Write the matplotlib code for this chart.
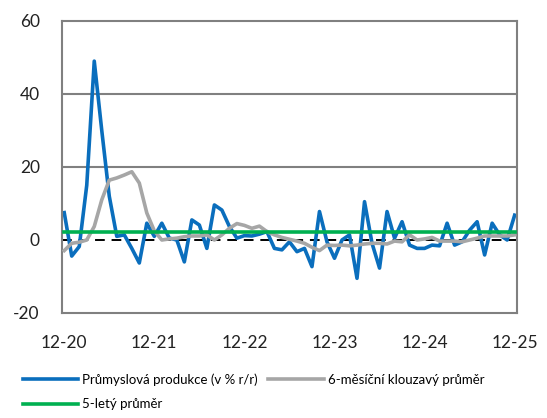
import matplotlib as mpl
mpl.use('Agg')
import matplotlib.pyplot as plt
import numpy as np

plt.rcParams['font.family'] = ['Lato', 'DejaVu Sans']
plt.rcParams['axes.unicode_minus'] = False

# Monthly data 12/2020 .. 12/2025 (61 months)
prumysl = [7.5, -4.4, -1.8, 15, 49, 30, 12, 1, 1.4, -2.3, -6.3, 4.6,
           1.0, 4.6, 0.5, 0, -6, 5.5, 4.1, -2.3, 9.6, 8.2, 3.7, 0.5,
           1.2, 1.1, 1.6, 2.3, -2.3, -2.7, -0.5, -3.2, -2.3, -7.3, 7.8, -0.5,
           -5, 0, 1.4, -10.5, 10.5, -0.9, -7.7, 7.8, 0.5, 5, -1.4, -2.3,
           -2.3, -1.4, -1.6, 4.6, -1.4, -0.5, 2.7, 5, -4.1, 4.6, 1.4, 0,
           6.8]
klouzavy = [-2.9, -0.9, -0.6, 0, 3.7, 11, 16.4, 17, 17.8, 18.7, 15.6, 7.4,
            2.5, 0, 0.3, 0.5, 0.9, 1.1, 1.1, 1.4, 0, 1.4, 3.2, 4.5,
            4.0, 3.2, 3.8, 2.3, 1.4, 0.7, 0.2, -0.3, -0.9, -2, -2.9, -1.4,
            -1.5, -1.4, -1.6, -1.4, -1.1, -0.9, -0.9, -1.1, -0.3, -0.5, 1.4, 0,
            0.3, 0.7, -0.3, -0.3, -0.3, -0.5, 0, 0.5, 1.1, 1.1, 1.1, 1.1,
            1.4]
petilety = 2.2
tick_labels = ['12-20', '12-21', '12-22', '12-23', '12-24', '12-25']

x = np.arange(len(prumysl))

f = plt.figure(figsize=(5.47, 4.18), dpi=100)
ax = f.add_axes([0.1133, 0.2512, 0.8317, 0.6986])

ax.axhline(0, color='black', lw=1.4, dashes=(5, 3.5), zorder=1)
for yv in (20, 40):
    ax.axhline(yv, color='#808080', lw=1.5, zorder=0)

l1, = ax.plot(x, prumysl, color='#0a6ebd', lw=2.6, zorder=2,
              label='Průmyslová produkce (v % r/r)')
l2, = ax.plot(x, klouzavy, color='#a6a6a6', lw=2.6, zorder=3,
              label='6-měsíční klouzavý průměr')
l3, = ax.plot(x, [petilety] * len(x), color='#00b050', lw=2.6, zorder=4,
              label='5-letý průměr')

ax.set_xlim(-0.3, 60.3)
ax.set_ylim(-20, 60)
ax.set_yticks([-20, 0, 20, 40, 60])
ax.set_xticks(np.arange(0, 61, 12))
ax.set_xticklabels(tick_labels)
ax.tick_params(length=0, labelsize=12.5, colors='#222222')
ax.tick_params(axis='y', pad=16)
ax.tick_params(axis='x', pad=16)
for s in ax.spines.values():
    s.set_color('#808080')
    s.set_linewidth(1.5)

f.legend([l1, l3, l2], [l1.get_label(), l3.get_label(), l2.get_label()],
         ncol=2, loc='lower left', bbox_to_anchor=(0.022, -0.007),
         frameon=False, fontsize=9.5, handlelength=4.2, handletextpad=0.3,
         columnspacing=0.8, labelspacing=0.95, borderpad=0.3)

f.savefig('out.png', dpi=100)
